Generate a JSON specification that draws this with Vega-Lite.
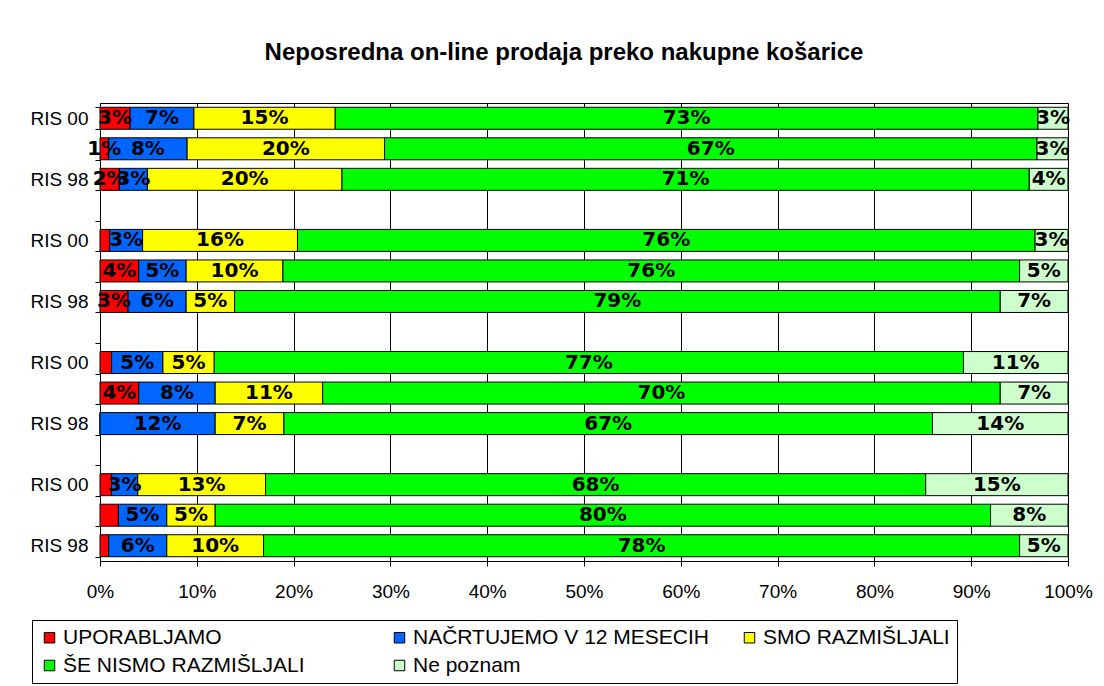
{
  "$schema": "https://vega.github.io/schema/vega-lite/v6.json",
  "width": 968,
  "height": 458,
  "autosize": "none",
  "padding": {"left": 100, "top": 103, "right": 36, "bottom": 125},
  "background": "white",
  "title": {
    "text": "Neposredna on-line prodaja preko nakupne košarice",
    "font": "Liberation Sans",
    "fontSize": 24,
    "fontWeight": "bold",
    "color": "black",
    "anchor": "middle",
    "offset": 29,
    "dx": -20
  },
  "data": {
    "values": [
      {"row": "1|RIS 00", "cat": "UPORABLJAMO", "k": 1, "value": 0.031, "label": "3%"},
      {"row": "1|RIS 00", "cat": "NAČRTUJEMO V 12 MESECIH", "k": 2, "value": 0.066, "label": "7%"},
      {"row": "1|RIS 00", "cat": "SMO RAZMIŠLJALI", "k": 3, "value": 0.146, "label": "15%"},
      {"row": "1|RIS 00", "cat": "ŠE NISMO RAZMIŠLJALI", "k": 4, "value": 0.726, "label": "73%"},
      {"row": "1|RIS 00", "cat": "Ne poznam", "k": 5, "value": 0.031, "label": "3%"},

      {"row": "2| ", "cat": "UPORABLJAMO", "k": 1, "value": 0.009, "label": "1%"},
      {"row": "2| ", "cat": "NAČRTUJEMO V 12 MESECIH", "k": 2, "value": 0.081, "label": "8%"},
      {"row": "2| ", "cat": "SMO RAZMIŠLJALI", "k": 3, "value": 0.204, "label": "20%"},
      {"row": "2| ", "cat": "ŠE NISMO RAZMIŠLJALI", "k": 4, "value": 0.674, "label": "67%"},
      {"row": "2| ", "cat": "Ne poznam", "k": 5, "value": 0.032, "label": "3%"},

      {"row": "3|RIS 98", "cat": "UPORABLJAMO", "k": 1, "value": 0.020, "label": "2%"},
      {"row": "3|RIS 98", "cat": "NAČRTUJEMO V 12 MESECIH", "k": 2, "value": 0.029, "label": "3%"},
      {"row": "3|RIS 98", "cat": "SMO RAZMIŠLJALI", "k": 3, "value": 0.201, "label": "20%"},
      {"row": "3|RIS 98", "cat": "ŠE NISMO RAZMIŠLJALI", "k": 4, "value": 0.710, "label": "71%"},
      {"row": "3|RIS 98", "cat": "Ne poznam", "k": 5, "value": 0.040, "label": "4%"},

      {"row": "5|RIS 00", "cat": "UPORABLJAMO", "k": 1, "value": 0.010, "label": ""},
      {"row": "5|RIS 00", "cat": "NAČRTUJEMO V 12 MESECIH", "k": 2, "value": 0.034, "label": "3%"},
      {"row": "5|RIS 00", "cat": "SMO RAZMIŠLJALI", "k": 3, "value": 0.160, "label": "16%"},
      {"row": "5|RIS 00", "cat": "ŠE NISMO RAZMIŠLJALI", "k": 4, "value": 0.762, "label": "76%"},
      {"row": "5|RIS 00", "cat": "Ne poznam", "k": 5, "value": 0.034, "label": "3%"},

      {"row": "6| ", "cat": "UPORABLJAMO", "k": 1, "value": 0.040, "label": "4%"},
      {"row": "6| ", "cat": "NAČRTUJEMO V 12 MESECIH", "k": 2, "value": 0.049, "label": "5%"},
      {"row": "6| ", "cat": "SMO RAZMIŠLJALI", "k": 3, "value": 0.100, "label": "10%"},
      {"row": "6| ", "cat": "ŠE NISMO RAZMIŠLJALI", "k": 4, "value": 0.761, "label": "76%"},
      {"row": "6| ", "cat": "Ne poznam", "k": 5, "value": 0.050, "label": "5%"},

      {"row": "7|RIS 98", "cat": "UPORABLJAMO", "k": 1, "value": 0.029, "label": "3%"},
      {"row": "7|RIS 98", "cat": "NAČRTUJEMO V 12 MESECIH", "k": 2, "value": 0.060, "label": "6%"},
      {"row": "7|RIS 98", "cat": "SMO RAZMIŠLJALI", "k": 3, "value": 0.050, "label": "5%"},
      {"row": "7|RIS 98", "cat": "ŠE NISMO RAZMIŠLJALI", "k": 4, "value": 0.791, "label": "79%"},
      {"row": "7|RIS 98", "cat": "Ne poznam", "k": 5, "value": 0.070, "label": "7%"},

      {"row": "9|RIS 00", "cat": "UPORABLJAMO", "k": 1, "value": 0.012, "label": ""},
      {"row": "9|RIS 00", "cat": "NAČRTUJEMO V 12 MESECIH", "k": 2, "value": 0.053, "label": "5%"},
      {"row": "9|RIS 00", "cat": "SMO RAZMIŠLJALI", "k": 3, "value": 0.053, "label": "5%"},
      {"row": "9|RIS 00", "cat": "ŠE NISMO RAZMIŠLJALI", "k": 4, "value": 0.774, "label": "77%"},
      {"row": "9|RIS 00", "cat": "Ne poznam", "k": 5, "value": 0.108, "label": "11%"},

      {"row": "10| ", "cat": "UPORABLJAMO", "k": 1, "value": 0.040, "label": "4%"},
      {"row": "10| ", "cat": "NAČRTUJEMO V 12 MESECIH", "k": 2, "value": 0.079, "label": "8%"},
      {"row": "10| ", "cat": "SMO RAZMIŠLJALI", "k": 3, "value": 0.111, "label": "11%"},
      {"row": "10| ", "cat": "ŠE NISMO RAZMIŠLJALI", "k": 4, "value": 0.700, "label": "70%"},
      {"row": "10| ", "cat": "Ne poznam", "k": 5, "value": 0.070, "label": "7%"},

      {"row": "11|RIS 98", "cat": "UPORABLJAMO", "k": 1, "value": 0.0, "label": ""},
      {"row": "11|RIS 98", "cat": "NAČRTUJEMO V 12 MESECIH", "k": 2, "value": 0.119, "label": "12%"},
      {"row": "11|RIS 98", "cat": "SMO RAZMIŠLJALI", "k": 3, "value": 0.071, "label": "7%"},
      {"row": "11|RIS 98", "cat": "ŠE NISMO RAZMIŠLJALI", "k": 4, "value": 0.670, "label": "67%"},
      {"row": "11|RIS 98", "cat": "Ne poznam", "k": 5, "value": 0.140, "label": "14%"},

      {"row": "13|RIS 00", "cat": "UPORABLJAMO", "k": 1, "value": 0.012, "label": ""},
      {"row": "13|RIS 00", "cat": "NAČRTUJEMO V 12 MESECIH", "k": 2, "value": 0.027, "label": "3%"},
      {"row": "13|RIS 00", "cat": "SMO RAZMIŠLJALI", "k": 3, "value": 0.132, "label": "13%"},
      {"row": "13|RIS 00", "cat": "ŠE NISMO RAZMIŠLJALI", "k": 4, "value": 0.682, "label": "68%"},
      {"row": "13|RIS 00", "cat": "Ne poznam", "k": 5, "value": 0.147, "label": "15%"},

      {"row": "14| ", "cat": "UPORABLJAMO", "k": 1, "value": 0.019, "label": ""},
      {"row": "14| ", "cat": "NAČRTUJEMO V 12 MESECIH", "k": 2, "value": 0.050, "label": "5%"},
      {"row": "14| ", "cat": "SMO RAZMIŠLJALI", "k": 3, "value": 0.050, "label": "5%"},
      {"row": "14| ", "cat": "ŠE NISMO RAZMIŠLJALI", "k": 4, "value": 0.801, "label": "80%"},
      {"row": "14| ", "cat": "Ne poznam", "k": 5, "value": 0.080, "label": "8%"},

      {"row": "15|RIS 98", "cat": "UPORABLJAMO", "k": 1, "value": 0.009, "label": ""},
      {"row": "15|RIS 98", "cat": "NAČRTUJEMO V 12 MESECIH", "k": 2, "value": 0.060, "label": "6%"},
      {"row": "15|RIS 98", "cat": "SMO RAZMIŠLJALI", "k": 3, "value": 0.100, "label": "10%"},
      {"row": "15|RIS 98", "cat": "ŠE NISMO RAZMIŠLJALI", "k": 4, "value": 0.781, "label": "78%"},
      {"row": "15|RIS 98", "cat": "Ne poznam", "k": 5, "value": 0.050, "label": "5%"}
    ]
  },
  "encoding": {
    "y": {
      "field": "row",
      "type": "nominal",
      "sort": null,
      "scale": {
        "domain": ["1|RIS 00", "2| ", "3|RIS 98", "4|", "5|RIS 00", "6| ", "7|RIS 98", "8|", "9|RIS 00", "10| ", "11|RIS 98", "12|", "13|RIS 00", "14| ", "15|RIS 98"],
        "paddingInner": 0.28,
        "paddingOuter": 0.14
      },
      "axis": {
        "title": null,
        "labelExpr": "split(datum.value, '|')[1]",
        "tickBand": "extent",
        "tickSize": 5,
        "tickColor": "black",
        "domainColor": "black",
        "labelFont": "Liberation Sans",
        "labelFontSize": 19,
        "labelColor": "black",
        "labelPadding": 7,
        "grid": false
      }
    }
  },
  "layer": [
    {
      "mark": {"type": "bar", "stroke": "black", "strokeWidth": 1},
      "encoding": {
        "x": {
          "field": "value",
          "type": "quantitative",
          "stack": "zero",
          "scale": {"domain": [0, 1], "nice": false},
          "axis": {
            "title": null,
            "format": ".0%",
            "values": [0, 0.1, 0.2, 0.3, 0.4, 0.5, 0.6, 0.7, 0.8, 0.9, 1],
            "grid": true,
            "gridColor": "black",
            "gridOpacity": 1,
            "gridWidth": 1,
            "domainColor": "black",
            "tickColor": "black",
            "tickSize": 5,
            "labelFont": "Liberation Sans",
            "labelFontSize": 19,
            "labelColor": "black",
            "labelPadding": 16,
            "labelFlush": false
          }
        },
        "color": {
          "field": "cat",
          "type": "nominal",
          "scale": {
            "domain": ["UPORABLJAMO", "NAČRTUJEMO V 12 MESECIH", "SMO RAZMIŠLJALI", "ŠE NISMO RAZMIŠLJALI", "Ne poznam"],
            "range": ["#FF0000", "#0066FF", "#FFFF00", "#00FF00", "#CCFFCC"]
          },
          "legend": {
            "title": null,
            "orient": "none",
            "legendX": -68,
            "legendY": 517,
            "direction": "horizontal",
            "columns": 3,
            "gridAlign": "all",
            "columnPadding": 30,
            "rowPadding": 6,
            "symbolType": "square",
            "symbolSize": 110,
            "symbolStrokeColor": "black",
            "symbolStrokeWidth": 1,
            "symbolOpacity": 1,
            "labelFont": "Liberation Sans",
            "labelFontSize": 21,
            "labelColor": "black",
            "labelOffset": 3,
            "labelLimit": 500,
            "strokeColor": "black",
            "fillColor": "white",
            "padding": 7
          }
        },
        "order": {"field": "k", "type": "quantitative"}
      }
    },
    {
      "mark": {"type": "text", "font": "DejaVu Sans", "fontWeight": "bold", "fontSize": 20, "color": "black", "baseline": "middle", "align": "center"},
      "encoding": {
        "x": {"field": "value", "type": "quantitative", "stack": "zero", "bandPosition": 0.5},
        "text": {"field": "label"},
        "order": {"field": "k", "type": "quantitative"}
      }
    }
  ],
  "config": {
    "view": {"stroke": "black", "strokeWidth": 1}
  }
}
